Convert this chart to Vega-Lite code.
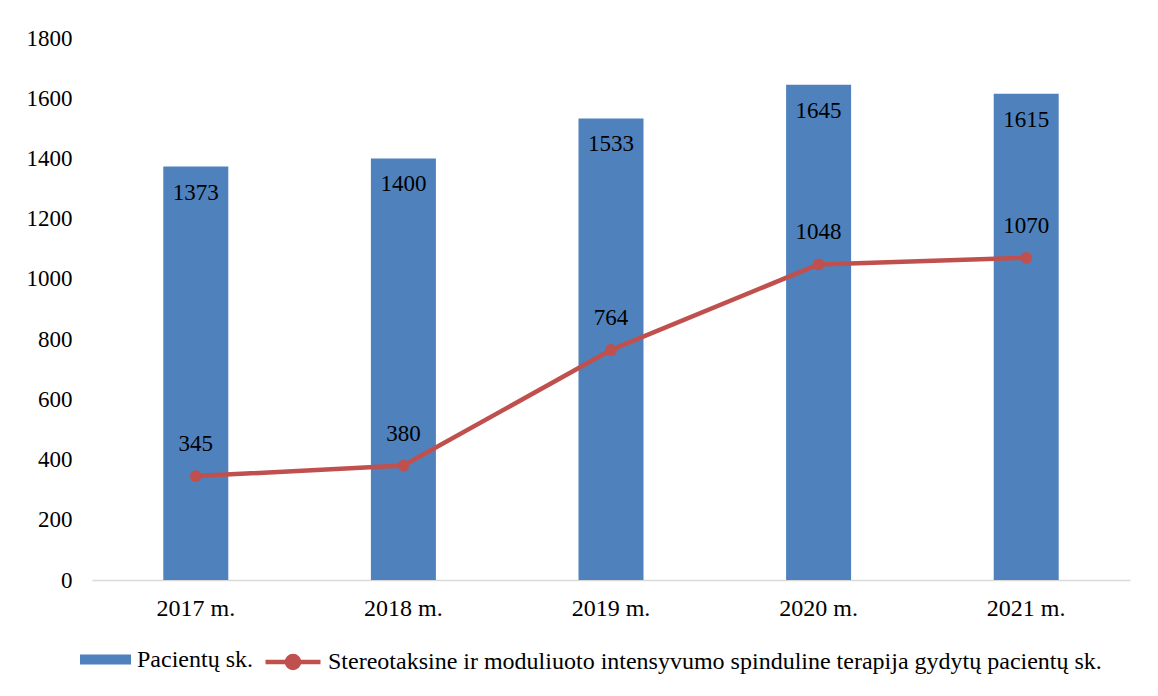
{
  "$schema": "https://vega.github.io/schema/vega-lite/v6.json",
  "width": 1038,
  "height": 542,
  "autosize": {"type": "none"},
  "padding": {"left": 92, "top": 38, "right": 28, "bottom": 116},
  "background": "white",
  "config": {
    "view": {"stroke": null},
    "font": "Liberation Serif",
    "axis": {"labelFont": "Liberation Serif", "labelFontSize": 23, "labelColor": "black", "title": null, "grid": false, "ticks": false},
    "legend": {"labelFont": "Liberation Serif", "labelFontSize": 24, "labelColor": "black", "padding": 0, "offset": 0, "title": null, "labelLimit": 0}
  },
  "data": {"values": [
    {"year": "2017 m.", "patients": 1373, "stereo": 345},
    {"year": "2018 m.", "patients": 1400, "stereo": 380},
    {"year": "2019 m.", "patients": 1533, "stereo": 764},
    {"year": "2020 m.", "patients": 1645, "stereo": 1048},
    {"year": "2021 m.", "patients": 1615, "stereo": 1070}
  ]},
  "encoding": {
    "x": {"field": "year", "type": "nominal", "sort": null,
      "axis": {"labelAngle": 0, "labelPadding": 16, "labelFontSize": 24, "domainColor": "#D9D9D9", "domainWidth": 1.5}}
  },
  "layer": [
    {
      "mark": {"type": "bar", "size": 65},
      "encoding": {
        "y": {"field": "patients", "type": "quantitative", "scale": {"domain": [0, 1800]},
          "axis": {"values": [0, 200, 400, 600, 800, 1000, 1200, 1400, 1600, 1800], "format": "d", "domain": false, "labelPadding": 20}},
        "fill": {"datum": "Pacientų sk.", "type": "nominal",
          "scale": {"range": ["#4F81BD"]},
          "legend": {"orient": "none", "legendX": -12, "legendY": 596, "symbolType": "M-1,-0.2H1V0.2H-1Z", "symbolSize": 2601, "symbolStrokeWidth": 0, "labelOffset": 6, "symbolOpacity": 1}}
      }
    },
    {
      "mark": {"type": "text", "baseline": "middle", "dy": 26, "fontSize": 23, "color": "black"},
      "encoding": {
        "y": {"field": "patients", "type": "quantitative"},
        "text": {"field": "patients", "type": "quantitative", "format": "d"}
      }
    },
    {
      "mark": {"type": "line", "strokeWidth": 4.5, "strokeCap": "round", "strokeJoin": "round"},
      "encoding": {
        "y": {"field": "stereo", "type": "quantitative"},
        "stroke": {"datum": "Stereotaksine ir moduliuoto intensyvumo spinduline terapija gydytų pacientų sk.", "type": "nominal",
          "scale": {"range": ["#C0504D"]},
          "legend": {"orient": "none", "legendX": 171, "legendY": 594, "symbolType": "M-1,0H1M0.22,0A0.22,0.22 0 1 1 -0.22,0A0.22,0.22 0 1 1 0.22,0Z", "symbolSize": 3025, "symbolStrokeWidth": 4.5, "symbolFillColor": "#C0504D", "labelOffset": 5}}
      }
    },
    {
      "mark": {"type": "point", "filled": true, "size": 140, "color": "#C0504D", "opacity": 1},
      "encoding": {
        "y": {"field": "stereo", "type": "quantitative"}
      }
    },
    {
      "mark": {"type": "text", "baseline": "middle", "dy": -32, "fontSize": 23, "color": "black"},
      "encoding": {
        "y": {"field": "stereo", "type": "quantitative"},
        "text": {"field": "stereo", "type": "quantitative", "format": "d"}
      }
    }
  ]
}
